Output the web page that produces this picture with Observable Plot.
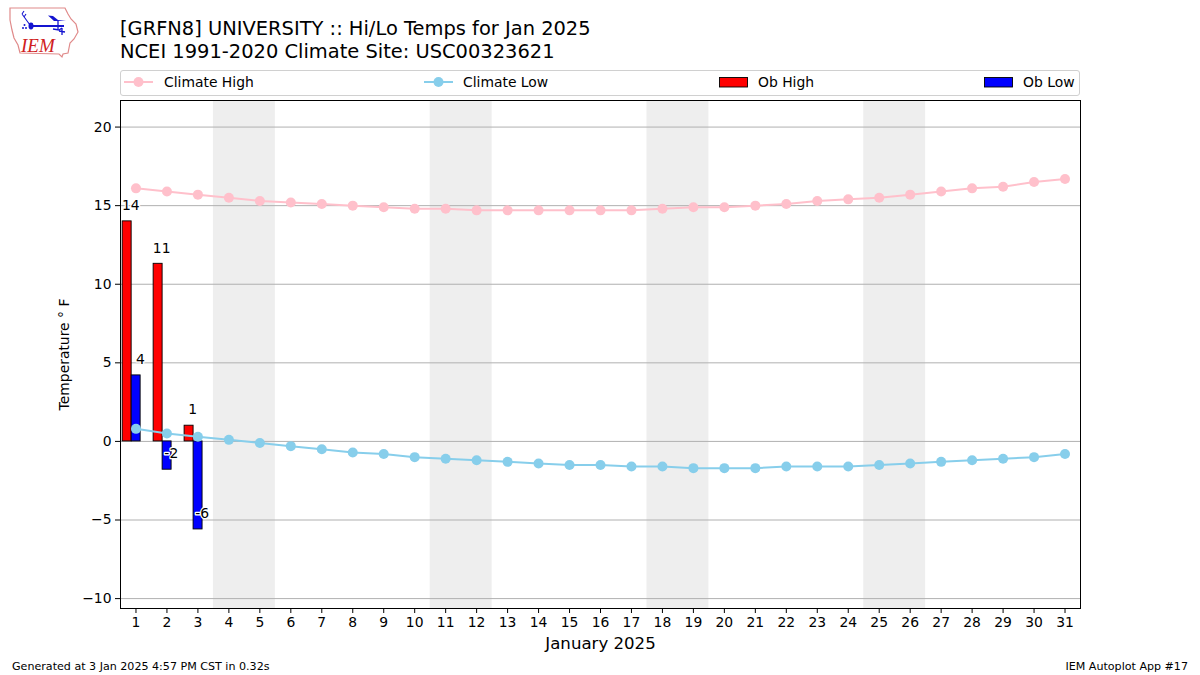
<!DOCTYPE html>
<html><head><meta charset="utf-8">
<script src="https://cdn.jsdelivr.net/npm/d3@7"></script>
<script src="https://cdn.jsdelivr.net/npm/@observablehq/plot@0.6"></script>
<style>
html,body{margin:0;padding:0;background:#fff;overflow:hidden;width:1200px;height:675px;font-family:"DejaVu Sans",sans-serif;color:#000}
#chart{position:absolute;left:0;top:0}
.abs{position:absolute;white-space:nowrap}
#title{left:120px;top:18px;font-size:19.45px;line-height:22.5px}
#legend{left:120px;top:70px;width:958px;height:24px;border:1px solid #d0d0d0;border-radius:3px;background:#fff}
.item{position:absolute;top:0;height:24px;font-size:13.9px;line-height:22px}
.item svg{position:absolute;left:0;top:0}
.item span{position:absolute;top:0}
.foot{font-size:11.1px;top:660px}
</style></head><body>
<div id="chart"></div>
<svg class="abs" style="left:0;top:0" width="90" height="62" viewBox="0 0 90 62">
<path d="M10 8L65 8L68 14L71 19L76 24L78 32L74 39L70 43L69 48L68 53L63 54L62 57L59 54L20 53L18 45L14 38L12 30L10 20Z" fill="none" stroke="#e08a8a" stroke-width="1.2"/>
<path d="M31 26H64" stroke="#1414d0" stroke-width="1.8" fill="none"/>
<path d="M48 15.5L53 16L58 20L66 21L54 21Z" fill="#1414d0"/>
<path d="M58 21V30M53 29L59 30L62 28M62 28V35M59 31L65 32" stroke="#1414d0" stroke-width="1.3" fill="none"/>
<ellipse cx="31" cy="26" rx="2.5" ry="3.4" fill="#1414d0"/>
<path d="M22 14L30 25M22 14L24 11M24 17L26 14" stroke="#1414d0" stroke-width="1.1" fill="none"/>
<circle cx="23" cy="28" r="1" fill="#1414d0"/><circle cx="26" cy="28" r="1" fill="#1414d0"/><circle cx="24.5" cy="25" r="1" fill="#1414d0"/>
<text x="21" y="52" font-family="Liberation Serif" font-style="italic" font-size="19" fill="#d02020">IEM</text>
</svg>
<div id="title" class="abs">[GRFN8] UNIVERSITY :: Hi/Lo Temps for Jan 2025<br>NCEI 1991-2020 Climate Site: USC00323621</div>
<div id="legend" class="abs"></div>
<div class="abs foot" style="left:12px">Generated at 3 Jan 2025 4:57 PM CST in 0.32s</div>
<div class="abs foot" style="right:12px">IEM Autoplot App #17</div>
<script>
const days = d3.range(1, 32);
const climateHigh = [16.1,15.9,15.7,15.5,15.3,15.2,15.1,15.0,14.9,14.8,14.8,14.7,14.7,14.7,14.7,14.7,14.7,14.8,14.9,14.9,15.0,15.1,15.3,15.4,15.5,15.7,15.9,16.1,16.2,16.5,16.7];
const climateLow = [0.8,0.5,0.3,0.1,-0.1,-0.3,-0.5,-0.7,-0.8,-1.0,-1.1,-1.2,-1.3,-1.4,-1.5,-1.5,-1.6,-1.6,-1.7,-1.7,-1.7,-1.6,-1.6,-1.6,-1.5,-1.4,-1.3,-1.2,-1.1,-1.0,-0.8];
const obDays = [1,2,3];
const obHigh = [14,11.3,1];
const obLow = [4.2,-1.8,-5.6];
const obHighLabels = ["14","11","1"];
const obLowLabels = ["4","-2","-6"];
const weekendStarts = [4,11,18,25];
const yTicks = [-10,-5,0,5,10,15,20];

const high = days.map((d,i)=>({d,v:climateHigh[i]}));
const low = days.map((d,i)=>({d,v:climateLow[i]}));
const obsH = obDays.map((d,i)=>({d,v:obHigh[i],t:obHighLabels[i]}));
const obsL = obDays.map((d,i)=>({d,v:obLow[i],t:obLowLabels[i]}));
const labelStyle = {fontSize:13.9, fill:"#000", stroke:"#fff", strokeWidth:2.5, paintOrder:"stroke", textAnchor:"middle"};

const plot = Plot.plot({
  width:1200, height:675,
  marginTop:100, marginBottom:67, marginLeft:120, marginRight:120,
  style:{fontFamily:'"DejaVu Sans",sans-serif', background:"#fff", overflow:"visible"},
  x:{domain:[0.5,31.5], label:null},
  y:{domain:[-10.63,21.69], label:null},
  marks:[
    Plot.rect(weekendStarts,{x1:d=>d-0.5, x2:d=>d+1.5, fill:"#eeeeee"}),
    Plot.ruleY(yTicks,{stroke:"#b0b0b0", strokeWidth:1}),
    Plot.rect(obsH,{x1:d=>d.d-0.43, x2:d=>d.d-0.14, y1:0, y2:"v", fill:"#ff0000", stroke:"#000", strokeWidth:0.9}),
    Plot.rect(obsL,{x1:d=>d.d-0.14, x2:d=>d.d+0.15, y1:0, y2:"v", fill:"#0000ff", stroke:"#000", strokeWidth:0.9}),
    Plot.text(obsH,{x:d=>d.d-0.17, y:d=>d.v+1, text:"t", ...labelStyle}),
    Plot.text(obsL,{x:d=>d.d+0.14, y:d=>d.v+1, text:"t", ...labelStyle}),
    Plot.line(high,{x:"d",y:"v",stroke:"#ffc0cb",strokeWidth:2}),
    Plot.dot(high,{x:"d",y:"v",fill:"#ffc0cb",r:5}),
    Plot.line(low,{x:"d",y:"v",stroke:"#87ceeb",strokeWidth:2}),
    Plot.dot(low,{x:"d",y:"v",fill:"#87ceeb",r:5}),
    Plot.frame({stroke:"#000",strokeWidth:1}),
    Plot.axisX({ticks:days, tickSize:5, tickPadding:4, tickFormat:d=>String(d), fontSize:13.9, stroke:"#000", strokeOpacity:1, fill:"#000", label:null}),
    Plot.axisY({ticks:yTicks, tickSize:5, tickPadding:4, fontSize:13.9, stroke:"#000", strokeOpacity:1, fill:"#000", label:null}),
    Plot.text(["January 2025"],{frameAnchor:"bottom", dy:40, fontSize:16.6, fill:"#000"}),
    Plot.text(["Temperature \u00b0 F"],{frameAnchor:"left", dx:-56, rotate:-90, textAnchor:"middle", fontSize:13.9, fill:"#000"})
  ]
});
document.getElementById("chart").append(plot);

const legendItems = [
  {name:"Climate High", kind:"line", color:"#ffc0cb", left:3},
  {name:"Climate Low", kind:"line", color:"#87ceeb", left:303},
  {name:"Ob High", kind:"box", color:"#ff0000", left:598},
  {name:"Ob Low", kind:"box", color:"#0000ff", left:863}
];
const legend = document.getElementById("legend");
for (const it of legendItems) {
  const el = document.createElement("div");
  el.className = "item";
  el.style.left = it.left + "px";
  const g = it.kind === "line"
    ? `<line x1="0" x2="29" y1="11" y2="11" stroke="${it.color}" stroke-width="2"/><circle cx="14.5" cy="11" r="5" fill="${it.color}"/>`
    : `<rect x="0.5" y="6.5" width="28" height="9.5" fill="${it.color}" stroke="#000" stroke-width="0.9"/>`;
  el.innerHTML = `<svg width="30" height="24">${g}</svg><span style="left:${it.name==="Climate Low"?39:(it.kind==="line"?40:39)}px">${it.name}</span>`;
  legend.append(el);
}
</script>
</body></html>
